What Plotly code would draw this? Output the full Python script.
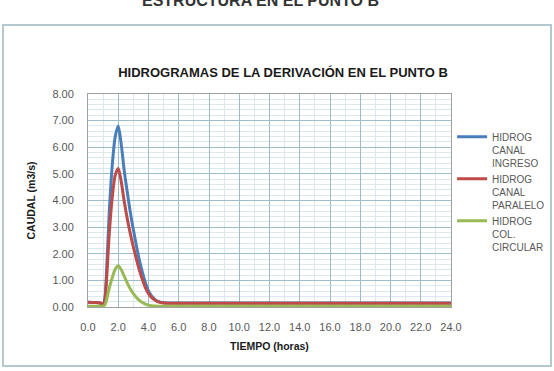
import plotly.graph_objects as go

# ---- data ----
tiempo = [0.0, 0.5, 0.8, 1.0, 1.1, 1.2, 1.4, 1.6, 1.8, 2.0, 2.2, 2.4, 2.6, 2.8, 3.0,
          3.2, 3.4, 3.6, 3.8, 4.0, 4.2, 4.4, 4.6, 4.8, 5.0, 6.0, 8.0, 10.0, 12.0,
          14.0, 16.0, 18.0, 20.0, 22.0, 24.0]
canal_ingreso = [0.18, 0.17, 0.15, 0.1, 0.25, 1.0, 3.5, 5.3, 6.4, 6.8, 6.1, 5.1, 4.3, 3.55, 2.9,
                 2.3, 1.75, 1.3, 0.9, 0.6, 0.42, 0.3, 0.22, 0.18, 0.16, 0.15, 0.15, 0.15, 0.15,
                 0.15, 0.15, 0.15, 0.15, 0.15, 0.15]
canal_paralelo = [0.18, 0.17, 0.15, 0.09, 0.22, 0.8, 2.7, 4.1, 4.95, 5.2, 4.7, 3.95, 3.3, 2.75, 2.25,
                  1.8, 1.38, 1.02, 0.72, 0.5, 0.36, 0.27, 0.2, 0.17, 0.15, 0.14, 0.14, 0.14, 0.14,
                  0.14, 0.14, 0.14, 0.14, 0.14, 0.14]
col_circular = [0.03, 0.03, 0.03, 0.03, 0.07, 0.2, 0.7, 1.1, 1.42, 1.55, 1.4, 1.15, 0.9, 0.68, 0.5,
                0.36, 0.25, 0.17, 0.11, 0.07, 0.05, 0.04, 0.03, 0.03, 0.03, 0.03, 0.03, 0.03, 0.03,
                0.03, 0.03, 0.03, 0.03, 0.03, 0.03]
series_names = ["HIDROG<br>CANAL<br>INGRESO", "HIDROG<br>CANAL<br>PARALELO", "HIDROG<br>COL.<br>CIRCULAR"]
series_colors = ["#4A7EBB", "#BE4B48", "#98B954"]

x_ticks = [0, 2, 4, 6, 8, 10, 12, 14, 16, 18, 20, 22, 24]
y_ticks = [0, 1, 2, 3, 4, 5, 6, 7, 8]

FONT = "Liberation Sans"
GRAY = "#595959"

fig = go.Figure()
for name, vals, col in zip(series_names, [canal_ingreso, canal_paralelo, col_circular], series_colors):
    fig.add_trace(go.Scatter(x=tiempo, y=vals, name=name, mode="lines",
                             line=dict(color=col, width=3, shape="spline", smoothing=0.8)))

fig.update_layout(
    width=554, height=371,
    margin=dict(l=88, r=103, t=94, b=64, autoexpand=False),
    paper_bgcolor="white", plot_bgcolor="white",
    font=dict(family=FONT, color=GRAY, size=11),
    title=dict(text="<b>HIDROGRAMAS DE LA DERIVACIÓN EN EL PUNTO B</b>",
               x=(283) / 554, xanchor="center", y=1 - 72 / 371, yanchor="middle",
               font=dict(family=FONT, size=13, color="#1a1a1a")),
    showlegend=True,
    legend=dict(x=1.003, xanchor="left", y=0.86, yanchor="top", valign="top",
                font=dict(family=FONT, size=10, color=GRAY), tracegroupgap=0,
                bgcolor="rgba(0,0,0,0)", itemwidth=30),
    xaxis=dict(range=[0, 24], tickvals=x_ticks, tickformat=".1f",
               showgrid=True, gridcolor="#9dbdc8", gridwidth=1,
               minor=dict(dtick=1, showgrid=True, gridcolor="#dde8ec", gridwidth=1),
               showline=True, linecolor="#a0a0a0", mirror=True, zeroline=False,
               ticks="", ticklabelstandoff=10, tickfont=dict(size=11, color=GRAY),
               title=dict(text="<b>TIEMPO (horas)</b>", font=dict(size=10.5, color="#1a1a1a"), standoff=10)),
    yaxis=dict(range=[0, 8], tickvals=y_ticks, tickformat=".2f",
               showgrid=True, gridcolor="#9dbdc8", gridwidth=1,
               minor=dict(dtick=0.2, showgrid=True, gridcolor="#dde8ec", gridwidth=1),
               showline=True, linecolor="#a0a0a0", mirror=True, zeroline=False,
               ticks="", ticklabelstandoff=11, tickfont=dict(size=11, color=GRAY),
               title=dict(text="<b>CAUDAL (m3/s)</b>", font=dict(size=10.5, color="#1a1a1a"), standoff=14)),
)

# outer chart-area frame
fig.add_shape(type="rect", xref="paper", yref="paper",
              x0=(3 - 88) / 363, x1=(551 - 88) / 363, y0=(307 - 366) / 213, y1=(307 - 25) / 213,
              line=dict(color="#b4c8d0", width=2), fillcolor="rgba(0,0,0,0)", layer="below")

# page heading cut off at the top of the image (as in the reference)
fig.add_annotation(text="<b>ESTRUCTURA EN EL PUNTO B</b>", xref="paper", yref="paper",
                   x=(260 - 88) / 363, y=(307 - 11) / 213, xanchor="center", yanchor="bottom",
                   showarrow=False, font=dict(family=FONT, size=16, color="#333333"))

fig.write_html("out.html")
